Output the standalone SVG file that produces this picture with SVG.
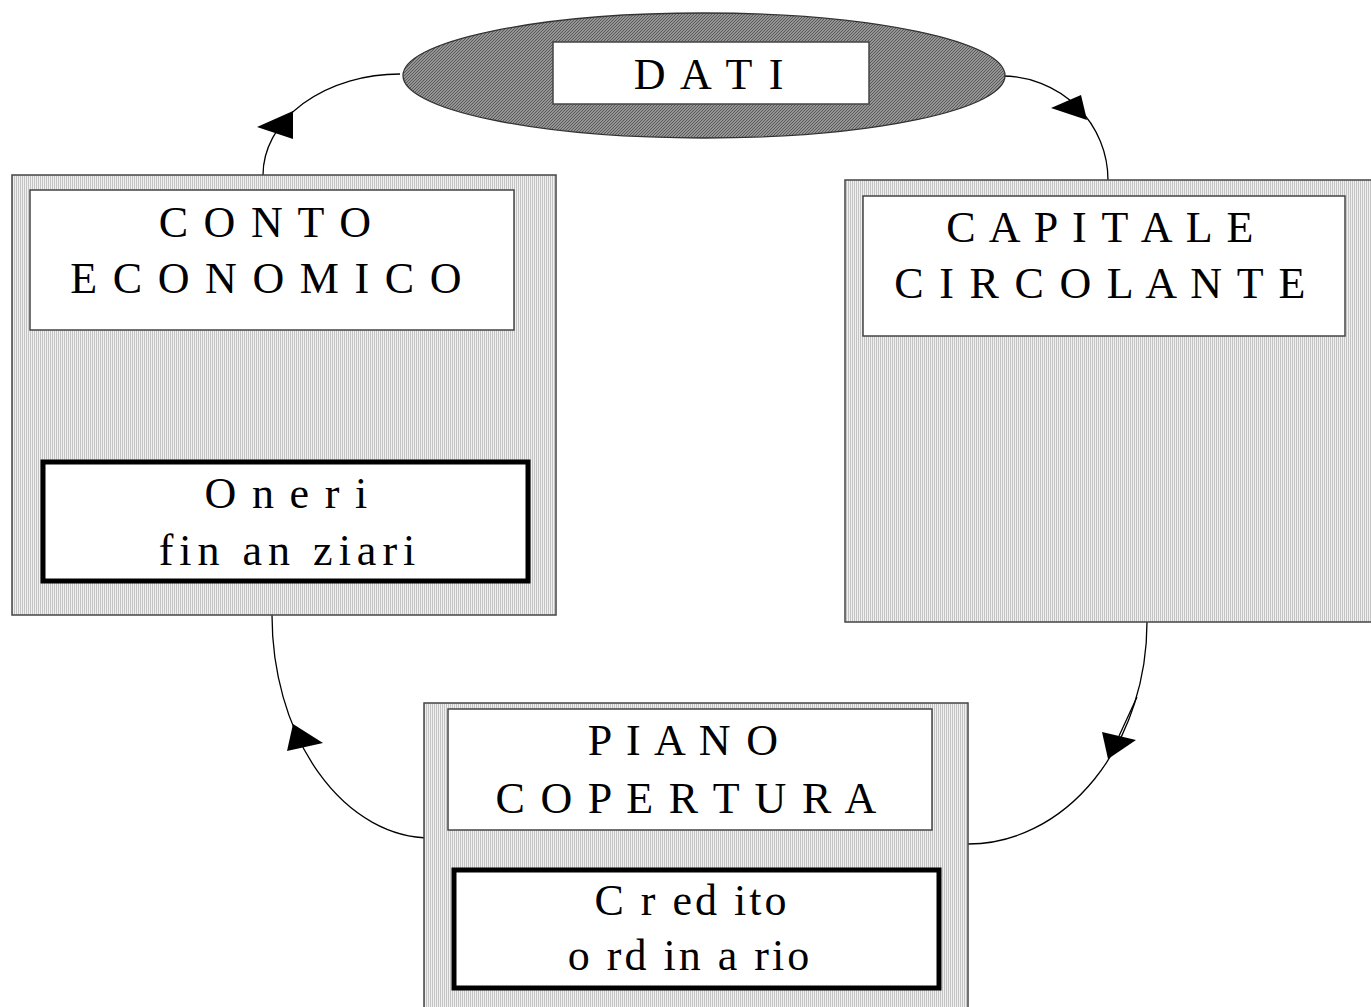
<svg xmlns="http://www.w3.org/2000/svg" width="1371" height="1007" viewBox="0 0 1371 1007">
<defs>
<pattern id="lt" width="2" height="2" patternUnits="userSpaceOnUse">
<rect width="2" height="2" fill="#f0f0f0"/>
<rect width="1" height="2" fill="#c4c4c4"/>
</pattern>
<pattern id="dk" width="3" height="3" patternUnits="userSpaceOnUse">
<rect width="3" height="3" fill="#949494"/>
<path d="M0,3 L3,0" stroke="#5a5a5a" stroke-width="1"/>
</pattern>
<style>
.outer{fill:url(#lt);stroke:#444;stroke-width:1.5}
.inner{fill:#fff;stroke:#444;stroke-width:1.5}
.thick{fill:#fff;stroke:#000;stroke-width:5}
.t{font-family:"Liberation Serif","Times New Roman",serif;font-size:44px;fill:#000;text-anchor:middle;letter-spacing:2.3px}
.l1{letter-spacing:3px}
.l2{letter-spacing:6px}
.c{fill:none;stroke:#000;stroke-width:1.3}
.ah{fill:#000}
</style>
</defs>
<rect width="1371" height="1007" fill="#fff"/>

<g id="connectors">
<path class="c" d="M400,74 A137,101 0 0 0 263,175"/>
<path class="c" d="M1002,76 A106,104 0 0 1 1108,180"/>
<path class="c" d="M1147,622 A179,222 0 0 1 968,844"/>
<path class="c" d="M1137,697 L1119,736"/>
<path class="c" d="M272,615 A159,223 0 0 0 431,838"/>
<polygon class="ah" points="257,127 293,111 293,139"/>
<polygon class="ah" points="1051,108 1081,95 1087,120"/>
<polygon class="ah" points="1102,732 1136,740 1108,759"/>
<polygon class="ah" points="293,724 323,743 287,751"/>
</g>

<g id="dati">
<ellipse cx="704" cy="75.5" rx="301" ry="62.5" fill="url(#dk)" stroke="#333" stroke-width="1.3"/>
<rect x="553" y="42" width="316" height="62" class="inner"/>
<text class="t l1" x="710" y="89">D A T I</text>
</g>

<g id="conto-economico">
<rect x="12" y="175" width="544" height="440" class="outer"/>
<rect x="30" y="190" width="484" height="140" class="inner"/>
<text class="t" x="266" y="237">C O N T O</text>
<text class="t" x="267" y="293">E C O N O M I C O</text>
</g>

<g id="oneri-finanziari">
<rect x="43" y="462" width="485" height="119" class="thick"/>
<text class="t" x="287" y="508">O n e r i</text>
<text class="t l2" x="290" y="565">fin an ziari</text>
</g>

<g id="capitale-circolante">
<rect x="845" y="180" width="530" height="442" class="outer"/>
<rect x="863" y="196" width="482" height="140" class="inner"/>
<text class="t" x="1101" y="242">C A P I T A L E</text>
<text class="t" x="1101" y="298">C I R C O L A N T E</text>
</g>

<g id="piano-copertura">
<rect x="424" y="703" width="544" height="310" class="outer"/>
<rect x="448" y="709" width="484" height="121" class="inner"/>
<text class="t" x="684" y="755">P I A N O</text>
<text class="t" x="687" y="813">C O P E R T U R A</text>
</g>

<g id="credito-ordinario">
<rect x="454" y="870" width="485" height="118" class="thick"/>
<text class="t l1" x="692" y="915">C r ed ito</text>
<text class="t l1" x="690" y="970">o rd in a rio</text>
</g>
</svg>
